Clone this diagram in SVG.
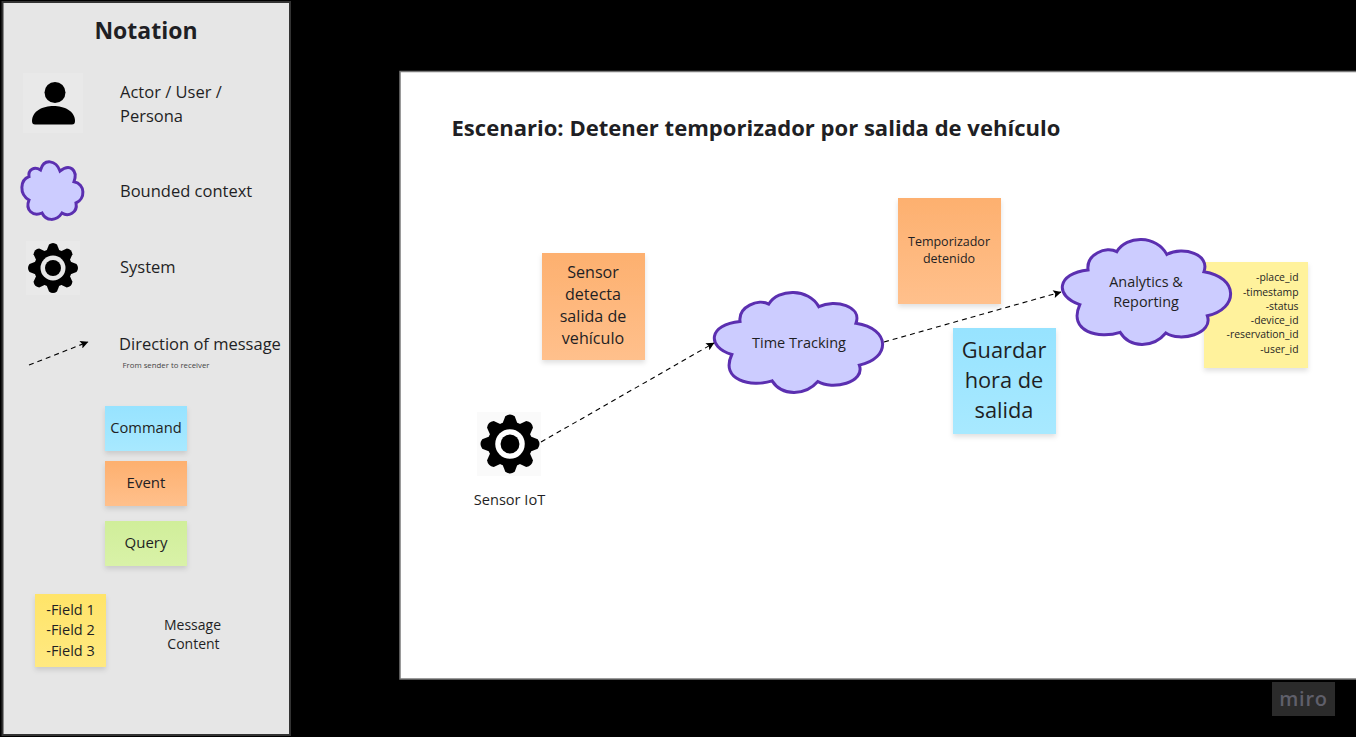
<svg xmlns="http://www.w3.org/2000/svg" width="1356" height="737" viewBox="0 0 1356 737">
<style>
text{font-family:"Open Sans","Noto Sans","Liberation Sans",sans-serif;fill:#1f1f24;text-anchor:middle}
.l{text-anchor:start}
.r{text-anchor:end;font-size:10.400px}
.cloud{fill:#ccccff;stroke:#5b2fb0;stroke-width:3;vector-effect:non-scaling-stroke}
.conn{fill:none;stroke:#000;stroke-width:1.100;stroke-dasharray:5 4}
.s{filter:url(#sh)}
</style>
<defs>
<linearGradient id="gb" x1="0" y1="0" x2="0" y2="1"><stop offset="0" stop-color="#97e3ff"/><stop offset="1" stop-color="#a8e9ff"/></linearGradient>
<linearGradient id="go" x1="0" y1="0" x2="0" y2="1"><stop offset="0" stop-color="#fdb06f"/><stop offset="1" stop-color="#ffc08c"/></linearGradient>
<linearGradient id="gg" x1="0" y1="0" x2="0" y2="1"><stop offset="0" stop-color="#d0ee9a"/><stop offset="1" stop-color="#d9f2a8"/></linearGradient>
<linearGradient id="gy" x1="0" y1="0" x2="0" y2="1"><stop offset="0" stop-color="#ffe469"/><stop offset="1" stop-color="#ffe981"/></linearGradient>
<filter id="sh" x="-15%" y="-15%" width="130%" height="135%"><feDropShadow dx="0" dy="3" stdDeviation="2.500" flood-color="#000" flood-opacity="0.120"/></filter>
<marker id="ah" viewBox="0 0 10 10" refX="9.500" refY="5" markerWidth="9" markerHeight="8" markerUnits="userSpaceOnUse" orient="auto"><path d="M0 0L10 5L0 10L2 5Z" fill="#000"/></marker>
<path id="cp" class="cloud" d="M15.200 29C14 14 26 6 32.300 11.600C38 -4.300 56 -4.300 62.100 14.200C72 6 88 14 84.200 30.700C105 36 105 66 86.200 72.600C90 90 70 98 61.500 89.100C54 103.700 40 103.700 34.300 88.400C22 95 3 88 10.300 62C-5 54 -3.500 32 15.200 29Z"/>
<path id="tooth" fill="#000" d="M-6.500 -17L-4 -23.500Q0 -26.500 4 -23.500L6.500 -17Z"/>
<g id="gear">
<circle r="19" fill="#000"/>
<use href="#tooth"/><use href="#tooth" transform="rotate(45)"/><use href="#tooth" transform="rotate(90)"/><use href="#tooth" transform="rotate(135)"/><use href="#tooth" transform="rotate(180)"/><use href="#tooth" transform="rotate(225)"/><use href="#tooth" transform="rotate(270)"/><use href="#tooth" transform="rotate(315)"/>
<circle r="12.500" fill="currentColor"/><circle r="8" fill="#000"/>
</g>
</defs>
<rect id="background" width="1356" height="737" fill="#000"/>
<g id="notation-panel">
<rect x="2.500" y="2" width="287.500" height="733" fill="#e6e6e6" stroke="#333" stroke-width="2"/>
<text x="146" y="39" font-size="23" font-weight="700">Notation</text>
</g>
<g id="legend-actor">
<rect x="23" y="73" width="60" height="60" fill="#e9e9e9"/>
<circle cx="55" cy="92.500" r="10.500" fill="#000"/>
<path d="M32 121C32 111 43 106 53.500 106C64 106 75 111 75 121Q75 124.500 72 124.500H35Q32 124.500 32 121Z" fill="#000"/>
<text class="l" x="120" y="98" font-size="16.500">Actor / User /</text>
<text class="l" x="120" y="122" font-size="16.500">Persona</text>
</g>
<g id="legend-context">
<path class="cloud" d="M40.500 170C44 158 56 160 60 171C70 163 78 170 74 181.700C85.500 184 85.500 199 76 203C78 213 68 217 62 213C56 222 46 221 42 213C33 217 25 210 29 200C19 194 20 180 29 176.700C28 170 34 166 40.500 170Z"/>
<text class="l" x="120" y="197" font-size="16.500">Bounded context</text>
</g>
<g id="legend-system">
<rect x="26" y="241" width="54" height="54" fill="#e9e9e9"/>
<use href="#gear" x="53" y="268" color="#e6e6e6"/>
<text class="l" x="120" y="273" font-size="16.500">System</text>
</g>
<g id="legend-direction">
<text class="l" x="119" y="350" font-size="16.500">Direction of message</text>
<text class="l" x="122.500" y="368" font-size="7.800" style="fill:#444">From sender to receiver</text>
</g>
<g id="legend-command"><rect class="s" x="105" y="406" width="82" height="45" fill="url(#gb)"/><text x="146" y="433" font-size="14.700">Command</text></g>
<g id="legend-event"><rect class="s" x="105" y="461" width="82" height="45" fill="url(#go)"/><text x="146" y="488" font-size="15">Event</text></g>
<g id="legend-query"><rect class="s" x="105" y="521" width="82" height="45" fill="url(#gg)"/><text x="146" y="548" font-size="15">Query</text></g>
<g id="legend-fields"><rect class="s" x="35" y="594" width="71" height="73" fill="url(#gy)"/>
<text x="70.500" y="615" font-size="14.500">-Field 1</text><text x="70.500" y="635" font-size="14.500">-Field 2</text><text x="70.500" y="656" font-size="14.500">-Field 3</text></g>
<g id="legend-message"><text x="192.500" y="630" font-size="14">Message</text><text x="193.500" y="649" font-size="14">Content</text></g>
<g id="canvas">
<rect x="400" y="71.500" width="957" height="607.500" fill="#fff" stroke="#7a7a7a" stroke-width="1.500"/>
<text class="l" x="451.500" y="136" font-size="22.050" font-weight="700">Escenario: Detener temporizador por salida de vehículo</text>
</g>
<g id="sensor-iot">
<rect x="477" y="412" width="64" height="64" fill="#fafafa"/>
<use href="#gear" transform="translate(510 444) scale(1.180)" color="#fff"/>
<text x="509.500" y="505" font-size="14.600">Sensor IoT</text>
</g>
<g id="event-sensor"><rect class="s" x="542" y="253" width="103" height="107" fill="url(#go)"/>
<text x="593" y="278" font-size="16.100">Sensor</text><text x="593" y="300" font-size="16.100">detecta</text><text x="593" y="322" font-size="16.100">salida de</text><text x="593" y="344" font-size="16.100">vehículo</text></g>
<g id="event-temporizador"><rect class="s" x="898" y="198" width="103" height="106" fill="url(#go)"/>
<text x="949" y="246" font-size="12.500">Temporizador</text><text x="949" y="263" font-size="12.500">detenido</text></g>
<g id="command-guardar"><rect class="s" x="953" y="328" width="103" height="106" fill="url(#gb)"/>
<text x="1004" y="358" font-size="21.800">Guardar</text><text x="1004" y="388" font-size="21.800">hora de</text><text x="1004" y="418" font-size="21.800">salida</text></g>
<g id="message-content"><rect class="s" x="1204" y="262" width="104" height="106" fill="#fff29c"/>
<text class="r" x="1298.500" y="281">-place_id</text><text class="r" x="1298.500" y="296">-timestamp</text><text class="r" x="1298.500" y="310">-status</text><text class="r" x="1298.500" y="324">-device_id</text><text class="r" x="1298.500" y="338">-reservation_id</text><text class="r" x="1298.500" y="353">-user_id</text></g>
<g id="context-time-tracking">
<use href="#cp" transform="translate(714.500 292.500) scale(1.680 1.000)"/>
<text x="799" y="348" font-size="14.500">Time Tracking</text>
</g>
<g id="context-analytics">
<use href="#cp" transform="translate(1062.500 239.500) scale(1.680 1.050)"/>
<text x="1146" y="287" font-size="14.400">Analytics &amp;</text><text x="1146" y="307" font-size="14.400">Reporting</text>
</g>
<g id="connectors">
<path class="conn" d="M29 365L88 342" marker-end="url(#ah)"/>
<path class="conn" d="M541 442L714 343" marker-end="url(#ah)"/>
<path class="conn" d="M884 342L1061 292" marker-end="url(#ah)"/>
</g>
<g id="miro-badge">
<rect x="1272" y="682" width="63" height="34" fill="#2b2b2b"/>
<text x="1303.500" y="706" font-size="20" font-weight="600" letter-spacing="0.800" style="fill:#5f5f6a">miro</text>
</g>
</svg>
